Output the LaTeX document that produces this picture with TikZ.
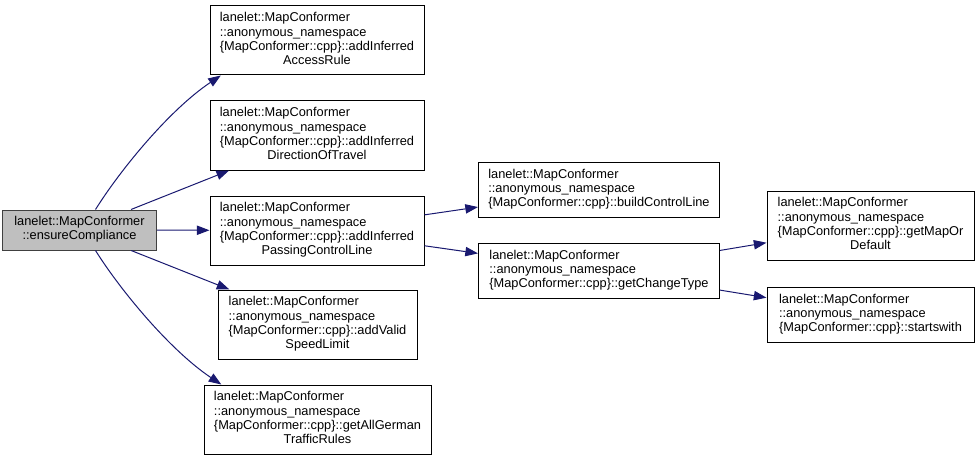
\documentclass[tikz,border=0pt]{standalone}
\usepackage{fontspec}
\setmainfont{Liberation Sans}
\usepackage{tikz}
\usetikzlibrary{arrows.meta}
\usepackage{xcolor}

\definecolor{edgeblue}{HTML}{191970}
\definecolor{rootgray}{HTML}{BFBFBF}

% 共通の前半3行
\newcommand{\anonns}{lanelet::MapConformer\\::anonymous\_namespace\\\{MapConformer::cpp\}::}

\tikzset{
  fn/.style={draw=black, fill=white, line width=0.75pt, inner sep=0pt,
    font=\fontsize{9.6}{10.7}\selectfont},
  call/.style={->, edgeblue, line width=0.75pt}
}

\begin{document}
\begin{tikzpicture}[x=0.75pt,y=0.75pt,>={Triangle[length=9.5pt,width=7pt]}]
        \useasboundingbox (0,0) rectangle (979,-460);

        %------------------
        % 呼び出し元
        %------------------

        \node[fn, fill=rootgray, draw=black!75, minimum width=115.5pt, minimum height=30pt]
          (root) at (79.5,-230)
          {\begin{tabular}{@{}l@{}}lanelet::MapConformer\\\multicolumn{1}{@{}c@{}}{::ensureCompliance}\end{tabular}};

        %------------------
        % 1段目
        %------------------

        \node[fn, minimum width=160.5pt, minimum height=51.75pt] (access) at (317,-40.5)
          {\begin{tabular}{@{}l@{}}\anonns addInferred\\\multicolumn{1}{@{}c@{}}{AccessRule}\end{tabular}};
        \node[fn, minimum width=160.5pt, minimum height=51.75pt] (direction) at (317,-135.5)
          {\begin{tabular}{@{}l@{}}\anonns addInferred\\\multicolumn{1}{@{}c@{}}{DirectionOfTravel}\end{tabular}};
        \node[fn, minimum width=160.5pt, minimum height=51.75pt] (passing) at (317,-230.5)
          {\begin{tabular}{@{}l@{}}\anonns addInferred\\\multicolumn{1}{@{}c@{}}{PassingControlLine}\end{tabular}};
        \node[fn, minimum width=149.25pt, minimum height=51.75pt] (speed) at (317.5,-324.5)
          {\begin{tabular}{@{}l@{}}\anonns addValid\\\multicolumn{1}{@{}c@{}}{SpeedLimit}\end{tabular}};
        \node[fn, minimum width=170.25pt, minimum height=51.75pt] (german) at (317.5,-419.5)
          {\begin{tabular}{@{}l@{}}\anonns getAllGerman\\\multicolumn{1}{@{}c@{}}{TrafficRules}\end{tabular}};

        %------------------
        % 2段目・3段目
        %------------------

        \node[fn, minimum width=180.75pt, minimum height=41.25pt] (control) at (599,-189.5)
          {\begin{tabular}{@{}l@{}}\anonns buildControlLine\end{tabular}};
        \node[fn, minimum width=180.75pt, minimum height=41.25pt] (change) at (599,-270.5)
          {\begin{tabular}{@{}l@{}}\anonns getChangeType\end{tabular}};
        \node[fn, minimum width=155.25pt, minimum height=51.75pt] (mapor) at (870.5,-225.5)
          {\begin{tabular}{@{}l@{}}\anonns getMapOr\\\multicolumn{1}{@{}c@{}}{Default}\end{tabular}};
        \node[fn, minimum width=155.25pt, minimum height=41.25pt] (starts) at (870.5,-314.5)
          {\begin{tabular}{@{}l@{}}\anonns startswith\end{tabular}};

        %------------------
        % 矢印
        %------------------

        \draw[call] (root.52) .. controls +(25,40) and +(-51,-34) .. (access.200);
        \draw[call] (root) -- (direction);
        \draw[call] (root) -- (passing);
        \draw[call] (root) -- (speed);
        \draw[call] (root.-52) .. controls +(25,-40) and +(-51,34) .. (german.160.5);

        \draw[call] (passing) -- (control);
        \draw[call] (passing) -- (change);
        \draw[call] (change) -- (mapor);
        \draw[call] (change) -- (starts);
      \end{tikzpicture}
\end{document}
